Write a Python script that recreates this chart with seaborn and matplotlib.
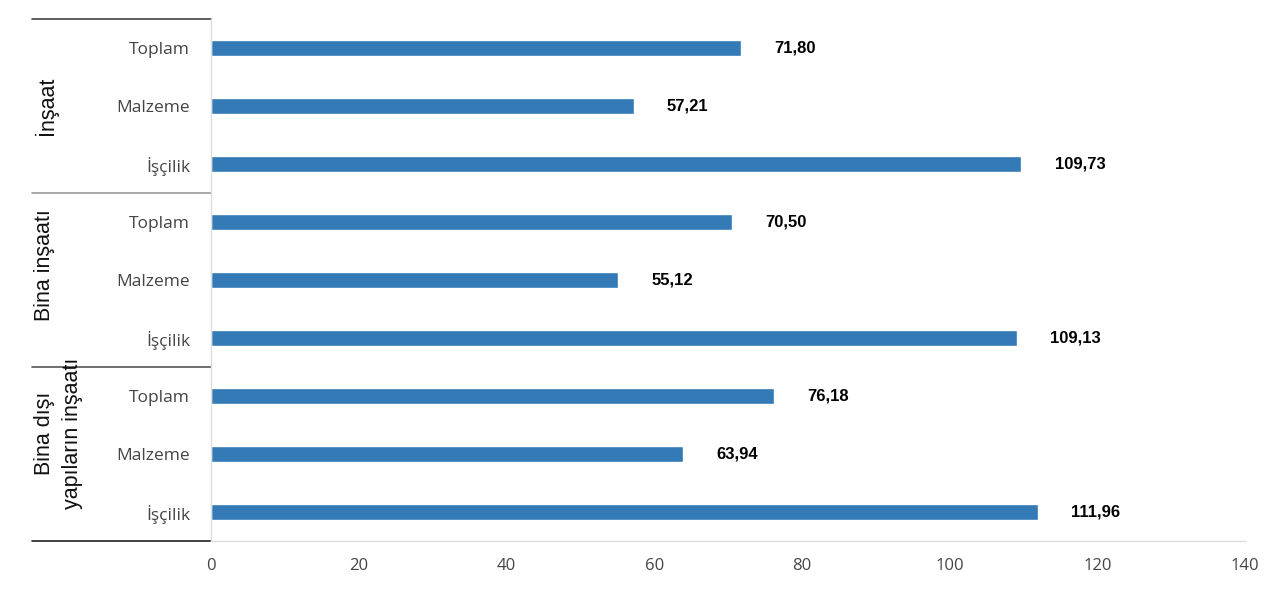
import numpy as np
import pandas as pd
import matplotlib
matplotlib.use("Agg")
import matplotlib.pyplot as plt
import seaborn as sns

# data
groups = ["İnşaat", "Bina inşaatı", "Bina dışı\nyapıların inşaatı"]
items = ["Toplam", "Malzeme", "İşçilik"]
values = [71.80, 57.21, 109.73,
          70.50, 55.12, 109.13,
          76.18, 63.94, 111.96]
x_ticks = [0, 20, 40, 60, 80, 100, 120, 140]

BAR_COLOR = "#337ab7"
# vertical position of each group label (row units)
GROUP_LABEL_POS = [1.0, 3.75, 6.65]

rows = []
for gi, g in enumerate(groups):
    for ii, it in enumerate(items):
        rows.append({"key": f"{gi}-{ii}", "group": g, "item": it,
                     "value": values[gi * 3 + ii]})
df = pd.DataFrame(rows)

sns.set_theme(style="white")
plt.rcParams["font.family"] = ["Open Sans", "DejaVu Sans"]

fig = plt.figure(figsize=(12.82, 6.05), dpi=100)
ax = fig.add_axes([211 / 1282, 1 - 541 / 605, 1034 / 1282, 522 / 605])

sns.barplot(data=df, x="value", y="key", order=df["key"], color=BAR_COLOR,
            width=0.29, orient="h", saturation=1, ax=ax)

ax.set_xlim(0, 140)
ax.set_ylim(8.5, -0.5)
ax.set_xticks(x_ticks)
ax.set_xticklabels([str(t) for t in x_ticks], fontsize=12, color="#444444")
ax.set_yticks(range(len(df)))
ax.set_yticklabels(df["item"], fontsize=12.5, color="#444444")
ax.tick_params(axis="y", length=0, pad=15)
ax.tick_params(axis="x", length=0, pad=12)
ax.set_xlabel("")
ax.set_ylabel("")

for side in ["top", "right"]:
    ax.spines[side].set_visible(False)
ax.spines["left"].set_color("#dddddd")
ax.spines["bottom"].set_color("#dddddd")
ax.spines["left"].set_linewidth(1)
ax.spines["bottom"].set_linewidth(1)

# value labels
for i, v in enumerate(df["value"]):
    ax.annotate(f"{v:.2f}".replace(".", ","), xy=(v, i), xytext=(24, 0),
                textcoords="offset points", ha="left", va="center",
                fontsize=12, fontweight="bold", color="#000000",
                family=["Liberation Sans", "DejaVu Sans"])

# group separators and group labels
trans = matplotlib.transforms.blended_transform_factory(ax.transAxes, ax.transData)
x0 = (32 - 211) / 1034
sep_colors = ["#444444", "#999999", "#555555", "#222222"]
for k, y in enumerate([-0.5, 2.5, 5.5, 8.5]):
    ax.plot([x0, 0], [y, y], transform=trans, color=sep_colors[k], lw=1.2,
            clip_on=False)

for gi, g in enumerate(groups):
    ax.text((34 - 211) / 1034, GROUP_LABEL_POS[gi], g, transform=trans,
            rotation=90, ha="left", va="center", fontsize=15.5,
            color="#111111", multialignment="center", linespacing=1.45,
            family=["Liberation Sans", "DejaVu Sans"])

fig.savefig("out.png", dpi=100)
